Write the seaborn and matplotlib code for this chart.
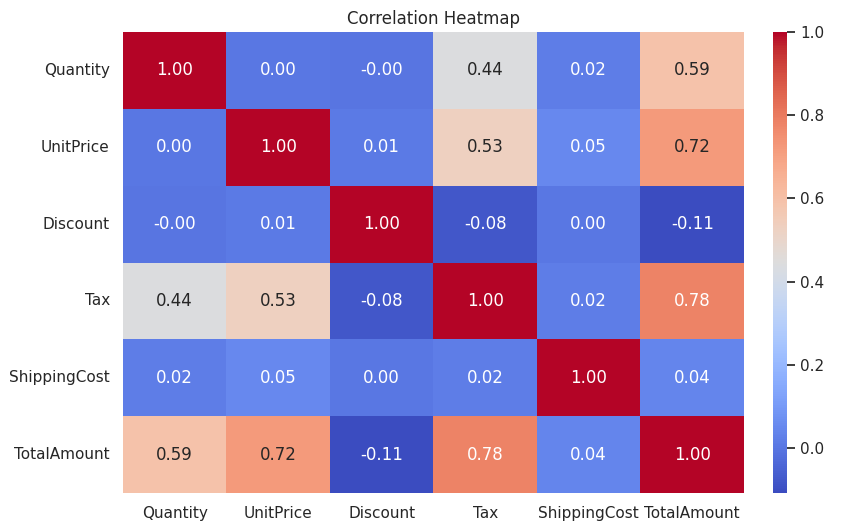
import numpy as np
import pandas as pd
import matplotlib
matplotlib.use("Agg")
import matplotlib.pyplot as plt
import seaborn as sns

labels = ["Quantity", "UnitPrice", "Discount", "Tax", "ShippingCost", "TotalAmount"]
row_quantity = [1.00, 0.002, -0.003, 0.44, 0.02, 0.59]
row_unitprice = [0.002, 1.00, 0.01, 0.53, 0.05, 0.72]
row_discount = [-0.003, 0.01, 1.00, -0.08, 0.001, -0.108]
row_tax = [0.44, 0.53, -0.08, 1.00, 0.02, 0.78]
row_shipping = [0.02, 0.05, 0.001, 0.02, 1.00, 0.04]
row_total = [0.59, 0.72, -0.108, 0.78, 0.04, 1.00]

corr = pd.DataFrame([row_quantity, row_unitprice, row_discount, row_tax, row_shipping, row_total],
                    index=labels, columns=labels)

sns.set_theme(style="white")
fig = plt.figure(figsize=(8.53, 5.32), dpi=100)
ax = fig.add_axes([123/853, 1-493/532, (744-123)/853, (493-32)/532])
cax = fig.add_axes([773/853, 1-493/532, 14/853, (493-32)/532])
sns.heatmap(corr, annot=True, fmt=".2f", cmap="coolwarm", ax=ax, cbar_ax=cax)
ax.set_title("Correlation Heatmap", fontsize=12)
ax.tick_params(axis="y", rotation=0)
ax.tick_params(axis="x", rotation=0)
fig.savefig("out.png", dpi=100)
